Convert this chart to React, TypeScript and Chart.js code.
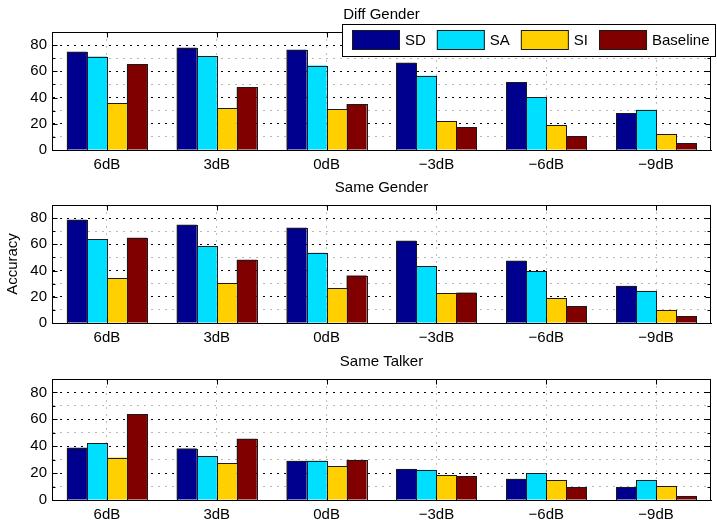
import React, { useEffect, useRef } from 'react';
import { Chart, registerables } from 'chart.js';

Chart.register(...registerables);

const categories = ['6dB', '3dB', '0dB', '\u22123dB', '\u22126dB', '\u22129dB'];
const seriesNames = ['SD', 'SA', 'SI', 'Baseline'];
const seriesColors = ['#00008F', '#00DFFF', '#FFCF00', '#800000'];

const diffGenderSD = [75, 78, 76.4, 66.5, 51.6, 27.9];
const diffGenderSA = [71.3, 71.6, 64.4, 56.7, 40.4, 30.7];
const diffGenderSI = [35.5, 31.7, 31.2, 22, 18.9, 12];
const diffGenderBaseline = [65.4, 47.8, 35, 17.4, 10.7, 5.1];

const sameGenderSD = [78.7, 74.9, 72.6, 62.7, 47.4, 28.3];
const sameGenderSA = [63.7, 58.6, 53.5, 43.3, 39.5, 24.5];
const sameGenderSI = [34.4, 30.6, 26.5, 22.7, 18.9, 9.7];
const sameGenderBaseline = [65, 48.2, 36.2, 23.2, 12.7, 5.1];

const sameTalkerSD = [38.8, 38.3, 29.1, 23.1, 15.7, 9.7];
const sameTalkerSA = [42.2, 32.5, 29.3, 22.4, 20.1, 14.9];
const sameTalkerSI = [31.6, 27.3, 25.1, 18.6, 14.7, 10.2];
const sameTalkerBaseline = [63.6, 45.5, 29.8, 17.6, 9.4, 3];

const yMin = 0;
const yMax = 90;
const yStep = 10;
const yLabelStep = 20;

const FONT = '"Liberation Sans", Arial, Helvetica, sans-serif';
const FONT_SIZE = 15;
const GRID_DASH = [2, 5];

type PanelCfg = {
  title: string;
  values: number[][];
  top: number;
  height: number;
  padTop: number;
  padBottom: number;
  legend: boolean;
  ylabel: string;
};

const panels: PanelCfg[] = [
  {
    title: 'Diff Gender',
    values: [diffGenderSD, diffGenderSA, diffGenderSI, diffGenderBaseline],
    top: 0, height: 172, padTop: 32, padBottom: 2, legend: true, ylabel: '',
  },
  {
    title: 'Same Gender',
    values: [sameGenderSD, sameGenderSA, sameGenderSI, sameGenderBaseline],
    top: 172, height: 172, padTop: 33, padBottom: 1, legend: false, ylabel: 'Accuracy',
  },
  {
    title: 'Same Talker',
    values: [sameTalkerSD, sameTalkerSA, sameTalkerSI, sameTalkerBaseline],
    top: 344, height: 176, padTop: 35, padBottom: 0, legend: false, ylabel: '',
  },
];

const matlabPlugin = {
  id: 'matlab',
  afterDatasetsDraw(chart: any) {
    const ctx = chart.ctx;
    const area = chart.chartArea;
    ctx.save();
    // bar edges
    ctx.strokeStyle = '#1a1a1a';
    ctx.lineWidth = 1;
    chart.data.datasets.forEach((_ds: any, di: number) => {
      const meta = chart.getDatasetMeta(di);
      meta.data.forEach((el: any) => {
        const p = el.getProps(['x', 'y', 'base', 'width'], true);
        const l = Math.round(p.x - p.width / 2);
        const r = Math.round(p.x + p.width / 2);
        const t = Math.round(p.y);
        const b = Math.round(p.base);
        ctx.strokeRect(l + 0.5, t + 0.5, r - l, b - t);
      });
    });
    // box
    const L = Math.round(area.left) + 0.5;
    const R = Math.round(area.right) - 0.5;
    const T = Math.round(area.top) + 0.5;
    const B = Math.round(area.bottom) + 0.5;
    ctx.strokeStyle = '#000';
    ctx.lineWidth = 1;
    ctx.strokeRect(L, T, R - L, B - T);
    // y ticks inward, both sides
    const ys = chart.scales.y;
    ys.ticks.forEach((tk: any) => {
      const py = Math.round(ys.getPixelForValue(tk.value)) + 0.5;
      const len = tk.value % yLabelStep === 0 ? 5 : 3;
      ctx.beginPath();
      ctx.moveTo(L, py); ctx.lineTo(L + len, py);
      ctx.moveTo(R, py); ctx.lineTo(R - len, py);
      ctx.stroke();
    });
    // x ticks inward at top and bottom
    const xs = chart.scales.x;
    xs.ticks.forEach((_tk: any, i: number) => {
      const px = Math.round(xs.getPixelForTick(i)) + 0.5;
      ctx.beginPath();
      ctx.moveTo(px, T); ctx.lineTo(px, T + 5);
      ctx.moveTo(px, B); ctx.lineTo(px, B - 5);
      ctx.stroke();
    });
    ctx.restore();
  },
  afterDraw(chart: any, _args: any, opts: any) {
    const ctx = chart.ctx;
    const area = chart.chartArea;
    ctx.save();
    ctx.fillStyle = '#000';
    ctx.font = `${FONT_SIZE}px ${FONT}`;
    if (opts.title) {
      ctx.textAlign = 'center';
      ctx.textBaseline = 'middle';
      ctx.fillText(opts.title, (area.left + area.right) / 2, area.top - 17);
    }
    if (opts.ylabel) {
      ctx.save();
      ctx.translate(13, (area.top + area.bottom) / 2);
      ctx.rotate(-Math.PI / 2);
      ctx.textAlign = 'center';
      ctx.textBaseline = 'middle';
      ctx.fillText(opts.ylabel, 0, 0);
      ctx.restore();
    }
    if (opts.legend) {
      const boxL = 342, boxT = 24, boxR = 716, boxB = 57;
      ctx.fillStyle = '#fff';
      ctx.fillRect(boxL, boxT, boxR - boxL, boxB - boxT);
      ctx.strokeStyle = '#000';
      ctx.lineWidth = 1;
      ctx.strokeRect(boxL + 0.5, boxT + 0.5, boxR - boxL - 1, boxB - boxT - 1);
      let x = 352;
      const sw = 48, sh = 20, sy = 30;
      ctx.textAlign = 'left';
      ctx.textBaseline = 'middle';
      chart.data.datasets.forEach((ds: any) => {
        ctx.fillStyle = ds.backgroundColor;
        ctx.fillRect(x, sy, sw, sh);
        ctx.strokeStyle = '#1a1a1a';
        ctx.strokeRect(x + 0.5, sy + 0.5, sw - 1, sh - 1);
        ctx.fillStyle = '#000';
        ctx.fillText(ds.label, x + sw + 5, sy + sh / 2 + 1);
        x = x + sw + 5 + ctx.measureText(ds.label).width + 11;
      });
    }
    ctx.restore();
  },
};

function Panel({ cfg }: { cfg: PanelCfg }) {
  const ref = useRef<HTMLCanvasElement>(null);
  useEffect(() => {
    const chart = new Chart(ref.current as HTMLCanvasElement, {
      type: 'bar',
      data: {
        labels: categories,
        datasets: seriesNames.map((name, i) => ({
          label: name,
          data: cfg.values[i],
          backgroundColor: seriesColors[i],
          borderWidth: 0,
          categoryPercentage: 0.729,
          barPercentage: 1.0,
        })),
      },
      options: {
        animation: false,
        responsive: false,
        maintainAspectRatio: false,
        font: { family: FONT, size: FONT_SIZE },
        layout: { padding: { top: cfg.padTop, bottom: cfg.padBottom, left: 0, right: 6 } },
        plugins: {
          legend: { display: false },
          tooltip: { enabled: false },
          title: { display: false },
          matlab: { title: cfg.title, ylabel: cfg.ylabel, legend: cfg.legend },
        } as any,
        scales: {
          x: {
            grid: { offset: false, color: '#bdbdbd', lineWidth: 1, drawTicks: false },
            border: { display: true, color: '#000', dash: GRID_DASH },
            ticks: { padding: 6, color: '#000', font: { family: FONT, size: FONT_SIZE } },
            afterFit: (s: any) => { s.height = 20; },
          },
          y: {
            min: yMin,
            max: yMax,
            ticks: {
              stepSize: yStep,
              autoSkip: false,
              padding: 5,
              color: '#000',
              font: { family: FONT, size: FONT_SIZE },
              callback: (v: any) => (Number(v) % yLabelStep === 0 ? String(v) : ''),
            },
            grid: {
              color: (c: any) => (c.tick && c.tick.value % yLabelStep === 0 ? '#000' : '#b8b8b8'),
              lineWidth: 1,
              drawTicks: false,
            },
            border: { display: true, color: '#000', dash: GRID_DASH },
            afterFit: (s: any) => { s.width = 52; },
          },
        } as any,
      },
      plugins: [matlabPlugin],
    });
    return () => chart.destroy();
  }, []);
  return (
    <canvas
      ref={ref}
      width={717}
      height={cfg.height}
      style={{ position: 'absolute', left: 0, top: cfg.top, width: 717, height: cfg.height, display: 'block' }}
    />
  );
}

export default function App() {
  return (
    <div style={{ position: 'fixed', left: 0, top: 0, width: 717, height: 520, background: '#fff', overflow: 'hidden' }}>
      {panels.map((p) => (
        <Panel key={p.title} cfg={p} />
      ))}
    </div>
  );
}
